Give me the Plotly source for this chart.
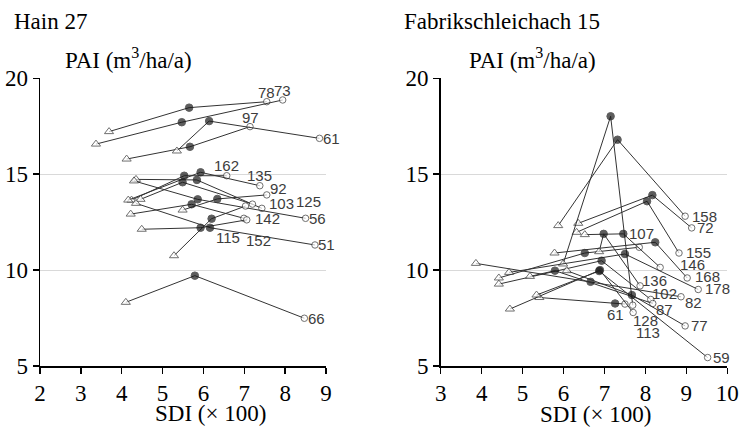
import plotly.graph_objects as go

# ---------------- data ----------------
# Hain 27: each stand has (first, middle, last) observations
hain_labels = ["78", "73", "97", "61", "162", "135", "92", "103", "125", "56",
               "142", "115", "152", "51", "66"]
hain_x = [
    [3.69, 5.65, 7.55], [3.37, 5.47, 7.94], [4.12, 5.67, 7.14], [5.35, 6.14, 8.84],
    [4.24, 5.53, 6.57], [4.16, 5.93, 7.38], [5.49, 6.34, 7.55], [4.35, 5.84, 7.43],
    [4.46, 5.49, 7.20], [4.30, 5.86, 8.50], [4.22, 5.71, 6.99], [5.28, 6.20, 7.03],
    [4.49, 5.93, 7.06], [4.35, 6.16, 8.73], [4.10, 5.79, 8.47],
]
hain_y = [
    [17.22, 18.47, 18.78], [16.57, 17.71, 18.87], [15.79, 16.43, 17.48], [16.21, 17.77, 16.87],
    [13.65, 14.92, 14.92], [13.65, 15.10, 14.40], [13.13, 13.71, 13.92], [14.73, 14.70, 13.22],
    [13.69, 14.58, 13.44], [14.65, 13.69, 12.70], [12.92, 13.43, 12.70], [10.75, 12.68, 13.34],
    [12.13, 12.21, 12.62], [13.48, 12.21, 11.31], [8.32, 9.71, 7.49],
]

# Fabrikschleichach 15
fab_labels = ["158", "72", "155", "128", "107", "146", "168", "178", "136", "102",
              "82", "87", "61", "113", "59", "77"]
fab_x = [
    [5.87, 7.32, 8.97], [6.36, 8.17, 9.13], [6.32, 8.04, 8.82], [5.99, 7.15, 7.69],
    [4.42, 6.52, 7.85], [6.52, 7.46, 8.36], [5.78, 8.24, 9.02], [4.67, 7.50, 9.29],
    [6.87, 6.98, 7.87], [4.42, 6.93, 8.13], [3.86, 6.66, 8.87], [5.18, 5.79, 8.18],
    [5.41, 7.26, 7.50], [4.69, 6.89, 7.70], [5.34, 6.87, 9.52], [6.08, 7.67, 8.97],
]
fab_y = [
    [12.32, 16.80, 12.81], [12.44, 13.91, 12.20], [11.97, 13.59, 10.89], [10.32, 18.02, 8.17],
    [9.59, 10.89, 11.19], [11.85, 11.89, 10.14], [10.89, 11.45, 9.59], [9.88, 10.84, 8.99],
    [10.96, 11.89, 9.18], [9.27, 10.49, 8.47], [10.35, 9.39, 8.61], [9.67, 9.97, 8.26],
    [8.57, 8.26, 8.23], [7.97, 10.00, 7.79], [8.70, 9.95, 5.44], [9.97, 8.70, 7.09],
]

x_ticks_left = [2, 3, 4, 5, 6, 7, 8, 9]
x_ticks_right = [3, 4, 5, 6, 7, 8, 9, 10]
y_ticks = [5, 10, 15, 20]

# label offsets in pixels (dx right, dy down) relative to the last point
hain_label_offsets = [
    (0, -9.5), (0, -9.5), (0, -9.5), (12.4, 0), (0, -10.7), (0, -10.7), (11.7, -6),
    (20, -5), (55.6, -2.3), (12, 0), (23.3, 0), (-17.4, 31.3), (11.3, 21), (12, 0), (12.4, 0),
]
fab_label_offsets = [
    (19.5, 0), (14.3, 0), (19.5, -0.6), (12.3, 15.7), (2.7, -13.4), (32.5, -3), (20.5, -1),
    (19.5, -1), (14.5, -5), (13.5, -6), (12.5, 5.7), (12, 5.7), (-9.7, 10), (15.3, 20),
    (14.3, 0), (14.5, 0),
]

LINE_C = "#333333"
DOT_C = "#1a1a1a"
LABEL_C = "#3c3c3c"
SERIF = "Liberation Serif"
SANS = "Liberation Sans"

fig = go.Figure()
annotations = []


def add_panel(xs, ys, labels, offsets, xa, ya):
    for xv, yv, lab, (dx, dy) in zip(xs, ys, labels, offsets):
        fig.add_trace(go.Scatter(
            x=xv, y=yv, xaxis=xa, yaxis=ya, mode="lines+markers",
            line=dict(color=LINE_C, width=1),
            marker=dict(
                symbol=["triangle-up", "circle", "circle"],
                size=[8, 7.5, 6.5],
                color=["white", DOT_C, "white"],
                line=dict(color=[LINE_C, DOT_C, LINE_C], width=1),
            ),
            showlegend=False, hoverinfo="skip", cliponaxis=False,
        ))
        annotations.append(dict(
            x=xv[2], y=yv[2], xref=xa, yref=ya, text=lab, showarrow=False,
            xanchor="center", yanchor="middle", xshift=dx, yshift=-dy,
            font=dict(family=SANS, size=15, color=LABEL_C),
        ))


add_panel(hain_x, hain_y, hain_labels, hain_label_offsets, "x", "y")
add_panel(fab_x, fab_y, fab_labels, fab_label_offsets, "x2", "y2")

W, H = 743, 428
y_dom = [(H - 366) / H, (H - 78.3) / H]

axis_common = dict(
    showline=True, linecolor="black", linewidth=1.5, ticks="outside", ticklen=6,
    tickwidth=1.5, tickcolor="black", zeroline=False, automargin=False,
    tickfont=dict(family=SERIF, size=23, color="black"),
)

fig.update_layout(
    width=W, height=H, margin=dict(l=0, r=0, t=0, b=0, autoexpand=False),
    paper_bgcolor="white", plot_bgcolor="white",
    xaxis=dict(domain=[40 / W, 326 / W], range=[2, 9], tickvals=x_ticks_left,
               showgrid=False, anchor="y", **axis_common),
    yaxis=dict(domain=y_dom, range=[5, 20], tickvals=y_ticks, showgrid=True,
               gridcolor="#d9d9d9", gridwidth=1, anchor="x", **axis_common),
    xaxis2=dict(domain=[440.7 / W, 727.3 / W], range=[3, 10], tickvals=x_ticks_right,
                showgrid=False, anchor="y2", **axis_common),
    yaxis2=dict(domain=y_dom, range=[5, 20], tickvals=y_ticks, showgrid=True,
                gridcolor="#d9d9d9", gridwidth=1, anchor="x2", **axis_common),
)

titles = [
    ("Hain 27", 11.7 / W, (H - 21.5) / H, "left"),
    ("Fabrikschleichach 15", 401.7 / W, (H - 21) / H, "left"),
    ("PAI (m<sup>3</sup>/ha/a)", 63.3 / W, (H - 58.5) / H, "left"),
    ("PAI (m<sup>3</sup>/ha/a)", 466.7 / W, (H - 58.5) / H, "left"),
    ("SDI (× 100)", 210 / W, (H - 413) / H, "center"),
    ("SDI (× 100)", 595.5 / W, (H - 414) / H, "center"),
]
for txt, x, y, xa in titles:
    annotations.append(dict(
        x=x, y=y, xref="paper", yref="paper", text=txt, showarrow=False,
        xanchor=xa, yanchor="middle", font=dict(family=SERIF, size=23, color="black"),
    ))

fig.update_layout(annotations=annotations)
fig.write_html(
    "out.html",
    config={"displayModeBar": False, "staticPlot": True},
    post_script="document.body.style.margin='0';document.body.style.overflow='hidden';",
)
